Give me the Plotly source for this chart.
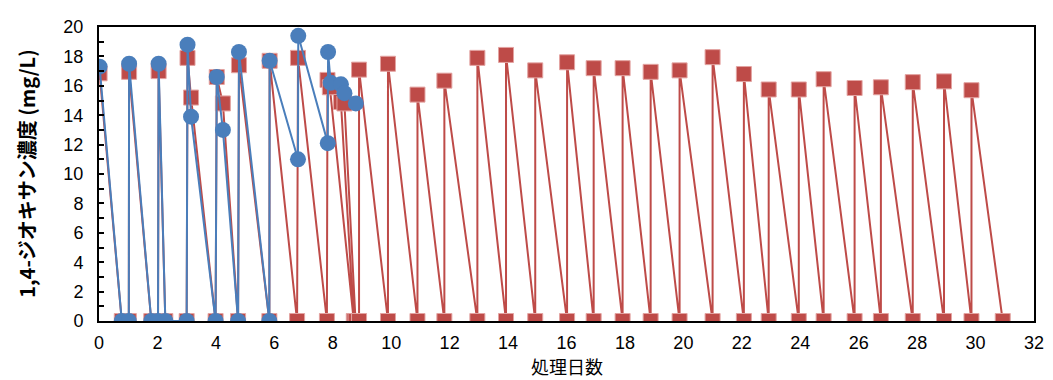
import plotly.graph_objects as go

# Blue series (circles): early experiment with intermediate measurements
blue_x = [0.02, 0.78, 1.02, 1.03, 1.79, 2.02, 2.04, 2.27, 3.0, 3.03, 3.15, 3.99, 4.03, 4.24,
          4.76, 4.79, 5.83, 5.84, 6.81, 6.82, 7.83, 7.84, 7.93, 8.28, 8.4, 8.79]
blue_y = [17.3, 0, 0, 17.5, 0, 0, 17.5, 0, 0, 18.8, 13.9, 0, 16.6, 13.0,
          0, 18.3, 0, 17.7, 11.0, 19.4, 12.1, 18.3, 16.2, 16.1, 15.5, 14.8]

# Red series (squares): early irregular part
red_early_x = [0.02, 0.78, 1.02, 1.03, 1.79, 2.02, 2.04, 2.27, 3.0, 3.03, 3.15, 3.99, 4.03, 4.24,
               4.76, 4.79, 5.83, 5.84, 6.78, 6.81, 7.8, 7.82, 7.9, 8.72, 8.28, 8.4, 8.78]
red_early_y = [16.85, 0, 0, 16.95, 0, 0, 17.0, 0, 0, 17.9, 15.2, 0, 16.6, 14.8,
               0, 17.4, 0, 17.7, 0, 17.9, 0, 16.4, 15.9, 0, 14.9, 14.8, 0]

# Red series: daily batches (each day: measured 0 at end, then refilled to C0)
red_days = [8.9, 9.89, 10.9, 11.82, 12.95, 13.93, 14.93, 16.02, 16.93, 17.92, 18.88,
            19.87, 21.0, 22.07, 22.92, 23.95, 24.8, 25.86, 26.76, 27.85, 28.92, 29.86]
red_tops = [17.1, 17.5, 15.4, 16.35, 17.9, 18.1, 17.05, 17.6, 17.2, 17.2, 16.95,
            17.05, 17.95, 16.8, 15.75, 15.75, 16.45, 15.85, 15.9, 16.25, 16.3, 15.7]
red_end_day = 30.93

x_ticks = list(range(0, 33, 2))
y_ticks = list(range(0, 21, 2))

red_x = list(red_early_x)
red_y = list(red_early_y)
for d, t in zip(red_days, red_tops):
    red_x += [d, d]
    red_y += [0, t]
red_x.append(red_end_day)
red_y.append(0)

RED = "#BE4B48"
BLUE = "#4A7EBB"

# page body has an 8px margin; figure is sized to fit the 1053x380 window
W, H = 1045, 372
ML, MR, MT, MB = 91, 10, 9, 59
PW, PH = W - ML - MR, H - MT - MB

fig = go.Figure()
fig.add_trace(go.Scatter(
    x=red_x, y=red_y, mode="lines+markers",
    line=dict(color=RED, width=2),
    marker=dict(symbol="square", size=15, color=RED, line=dict(color="#E3A3A1", width=1)),
    showlegend=False))
fig.add_trace(go.Scatter(
    x=blue_x, y=blue_y, mode="lines+markers",
    line=dict(color=BLUE, width=2),
    marker=dict(symbol="circle", size=16, color=BLUE, line=dict(color=BLUE, width=0)),
    showlegend=False))

fig.update_layout(
    width=W, height=H,
    margin=dict(l=ML, r=MR, t=MT, b=MB),
    paper_bgcolor="white", plot_bgcolor="white",
    font=dict(family="Liberation Sans, Arial, sans-serif", size=17, color="black"),
    xaxis=dict(range=[0, 32], tickvals=x_ticks, showgrid=False, zeroline=False,
               showline=True, linecolor="black", linewidth=2, mirror=True,
               ticks="", ticklabelstandoff=4,
               tickfont=dict(family="Liberation Sans, Arial, sans-serif", size=18)),
    yaxis=dict(range=[0, 20], tickvals=y_ticks, showgrid=False, zeroline=False,
               showline=True, linecolor="black", linewidth=2, mirror=True,
               ticks="inside", ticklen=5, tickwidth=1.5, tickcolor="black",
               minor=dict(dtick=1, ticks="inside", ticklen=5, tickwidth=1.5, tickcolor="black"),
               ticklabelstandoff=10,
               tickfont=dict(family="Liberation Sans, Arial, sans-serif", size=18)),
    annotations=[
        dict(text="<b>1,4-ジオキサン濃度 (mg/L)</b>", textangle=-90,
             xref="paper", yref="paper", x=(17 - ML) / PW, y=0.5,
             xanchor="center", yanchor="middle", showarrow=False,
             font=dict(family="Noto Sans CJK JP, sans-serif", size=20, color="black")),
        dict(text="処理日数", xref="paper", yref="paper",
             x=0.5, y=(H - MB - 360) / PH, borderpad=0,
             xanchor="center", yanchor="middle", showarrow=False,
             font=dict(family="Noto Sans CJK JP, sans-serif", size=18, color="black")),
    ],
)

fig.write_html("out.html")
